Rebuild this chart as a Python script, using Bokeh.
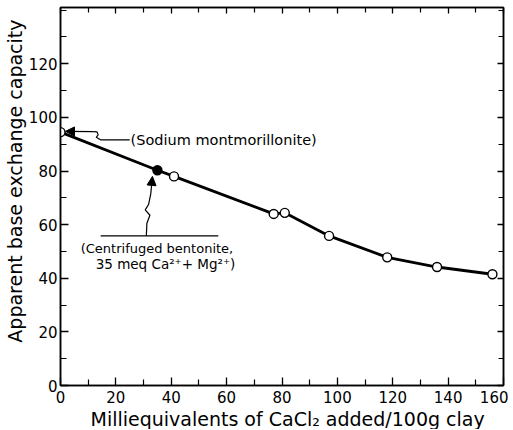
from bokeh.plotting import figure
from bokeh.models import (LinearAxis, Arrow, NormalHead, Label, Range1d,
                          FixedTicker, ColumnDataSource, Title)
from bokeh.embed import file_html
from bokeh.resources import INLINE

# ---- data ----
sample_x = [0, 41, 77, 81, 97, 118, 136, 156]
sample_y = [94.5, 78.0, 64.0, 64.4, 55.8, 47.8, 44.2, 41.5]
bentonite_x = [35]
bentonite_y = [80.3]

x_major = [0, 20, 40, 60, 80, 100, 120, 140, 160]
y_major = [0, 20, 40, 60, 80, 100, 120]
x_minor = [10, 30, 50, 70, 90, 110, 130, 150]
y_minor = [10, 30, 50, 70, 90, 110, 130, 140]

x_title = "Milliequivalents of CaCl\u2082 added/100g clay"
y_title = "Apparent base exchange capacity"

note_sodium = "(Sodium  montmorillonite)"
note_bent1 = "(Centrifuged  bentonite,"
note_bent2 = "35 meq  Ca\u00b2\u207a+ Mg\u00b2\u207a)"

# leader lines (data coordinates)
sodium_leader_x = [12, 13.2, 13.6, 12.9, 14.6, 25.0]
sodium_leader_y = [94.7, 94.6, 93.5, 92.6, 91.6, 91.6]
sodium_tip = (1.8, 94.8)
bent_bar_x = [14.5, 57]
bent_bar_y = [55.8, 55.8]
bent_leader_x = [31.0, 31.2, 32.3, 30.6, 31.8, 32.6]
bent_leader_y = [55.8, 60.5, 63.5, 65.5, 67.5, 71.5]
bent_tip = (33.2, 78.0)

FONT = "DejaVu Sans"

p = figure(width=508, height=429, output_backend="svg", toolbar_location=None,
           x_range=Range1d(0, 160), y_range=Range1d(0, 141),
           min_border_left=60, min_border_right=5, min_border_top=7,
           min_border_bottom=0)
p.grid.visible = False
p.outline_line_color = "black"
p.outline_line_width = 1.5
p.background_fill_color = "white"
p.border_fill_color = "white"

top = LinearAxis()
right = LinearAxis()
p.add_layout(top, "above")
p.add_layout(right, "right")
for ax in p.xaxis:
    ax.ticker = FixedTicker(ticks=x_major, minor_ticks=x_minor)
for ax in p.yaxis:
    ax.ticker = FixedTicker(ticks=y_major, minor_ticks=y_minor)
for ax in list(p.xaxis) + list(p.yaxis):
    ax.axis_line_color = "black"
    ax.axis_line_width = 1.5
    ax.major_tick_in = 8
    ax.major_tick_out = 0
    ax.minor_tick_in = 6
    ax.minor_tick_out = 0
    ax.major_tick_line_width = 1.3
    ax.minor_tick_line_width = 1.2
    ax.major_label_text_font = FONT
    ax.major_label_text_font_size = "15px"
    ax.major_label_text_color = "black"
top.major_label_overrides = {v: "" for v in x_major}
right.major_label_overrides = {v: "" for v in y_major}
for ax in (top, right):
    ax.major_label_standoff = 0
    ax.major_tick_in = 6
    ax.minor_tick_in = 5

p.xaxis[0].major_label_standoff = 1
p.yaxis[0].major_label_standoff = 3

# axis titles as side titles
xt = Title(text=x_title, align="left", offset=30, standoff=0,
           text_font=FONT, text_font_size="19px", text_font_style="normal",
           text_color="black", text_line_height=1.0)
yt = Title(text=y_title, align="right", offset=12, standoff=0,
           text_font=FONT, text_font_size="19px", text_font_style="normal",
           text_color="black", text_line_height=1.0)
p.add_layout(xt, "below")
p.add_layout(yt, "left")

# curve through the measured points
pts = sorted(zip(sample_x + bentonite_x, sample_y + bentonite_y))
curve = ColumnDataSource(dict(x=[a for a, b in pts], y=[b for a, b in pts]))
p.line("x", "y", source=curve, line_color="black", line_width=2.8)

p.scatter(sample_x, sample_y, size=9, fill_color="white", line_color="black",
          line_width=1.4)
p.scatter(bentonite_x, bentonite_y, size=9, fill_color="black",
          line_color="black", line_width=1.4)

# annotations
p.line(sodium_leader_x, sodium_leader_y, line_color="black", line_width=1.2)
p.add_layout(Arrow(end=NormalHead(size=9, fill_color="black", line_color="black"),
                   x_start=sodium_leader_x[0], y_start=sodium_leader_y[0],
                   x_end=sodium_tip[0], y_end=sodium_tip[1],
                   line_color="black", line_width=1.2))
p.add_layout(Label(x=25.3, y=91.5, text=note_sodium, text_font=FONT,
                   text_font_size="14.5px", text_baseline="middle",
                   text_color="black"))

p.line(bent_bar_x, bent_bar_y, line_color="black", line_width=1.2)
p.line(bent_leader_x, bent_leader_y, line_color="black", line_width=1.2)
p.add_layout(Arrow(end=NormalHead(size=9, fill_color="black", line_color="black"),
                   x_start=bent_leader_x[-1], y_start=bent_leader_y[-1],
                   x_end=bent_tip[0], y_end=bent_tip[1],
                   line_color="black", line_width=1.2))
p.add_layout(Label(x=7.3, y=51.0, text=note_bent1, text_font=FONT,
                   text_font_size="13px", text_baseline="middle",
                   text_color="black"))
p.add_layout(Label(x=12.7, y=45.5, text=note_bent2, text_font=FONT,
                   text_font_size="13.5px", text_baseline="middle",
                   text_color="black"))

open("out.html", "w").write(file_html(p, INLINE))
